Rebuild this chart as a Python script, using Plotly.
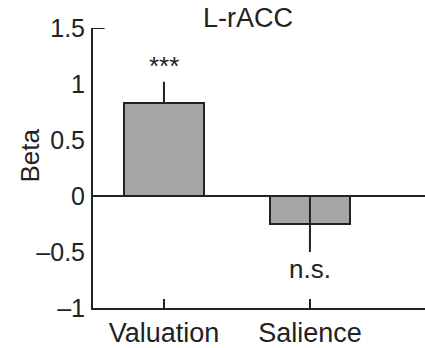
import plotly.graph_objects as go

categories = ["Valuation", "Salience"]
beta_values = [0.83, -0.25]
err_plus = [0.19, 0.25]
err_minus = [0.0, 0.25]
sig_labels = ["***", "n.s."]
sig_y = [1.16, -0.65]
y_tickvals = [-1, -0.5, 0, 0.5, 1, 1.5]
y_ticktext = ["\u20131", "\u20130.5", "0", "0.5", "1", "1.5"]
title_text = "L-rACC"
ylabel = "Beta"

FONT = "Liberation Sans, Arial, sans-serif"
DARK = "#222222"

fig = go.Figure()
fig.add_trace(go.Bar(
    x=[0, 1], y=beta_values, width=0.55,
    marker=dict(color="#a4a6a8", line=dict(color=DARK, width=2)),
    error_y=dict(type="data", symmetric=False, array=err_plus, arrayminus=err_minus,
                 color=DARK, thickness=2, width=0),
    showlegend=False,
))

for i, (lab, yy) in enumerate(zip(sig_labels, sig_y)):
    fig.add_annotation(x=i, y=yy, xref="x", yref="y", text=lab, showarrow=False,
                       font=dict(family=FONT, size=26, color=DARK),
                       xanchor="center", yanchor="middle")

fig.add_annotation(x=0.467, y=1.035, xref="paper", yref="paper", text=title_text,
                   showarrow=False, font=dict(family=FONT, size=27, color=DARK),
                   xanchor="center", yanchor="middle")
fig.add_annotation(x=-0.19, y=0.36, xref="paper", yref="y", text=ylabel,
                   showarrow=False, textangle=-90,
                   font=dict(family=FONT, size=26, color=DARK),
                   xanchor="center", yanchor="middle")

# zero line across the plot
fig.add_shape(type="line", xref="paper", yref="y", x0=0, x1=1, y0=0, y1=0,
              line=dict(color=DARK, width=2), layer="above")
# small tick at the top of the y axis
fig.add_shape(type="line", xref="paper", yref="y", x0=0, x1=0.035, y0=1.5, y1=1.5,
              line=dict(color=DARK, width=2))

fig.update_layout(
    width=425, height=348,
    margin=dict(l=93, r=0, t=28, b=37, pad=0),
    paper_bgcolor="white", plot_bgcolor="white",
    font=dict(family=FONT, color=DARK),
    bargap=0,
)
fig.update_xaxes(
    range=[-0.486, 1.788], tickvals=[0, 1], ticktext=categories,
    showline=True, linecolor=DARK, linewidth=2, ticks="inside", ticklen=9,
    tickwidth=2, tickcolor=DARK, showgrid=False, zeroline=False,
    tickfont=dict(family=FONT, size=27, color=DARK),
)
fig.update_yaxes(
    range=[-1, 1.5], tickvals=y_tickvals, ticktext=y_ticktext,
    showline=True, linecolor=DARK, linewidth=2, ticks="", showgrid=False,
    zeroline=False, ticklabelstandoff=1,
    tickfont=dict(family=FONT, size=25, color=DARK),
)

fig.write_html("out.html")
